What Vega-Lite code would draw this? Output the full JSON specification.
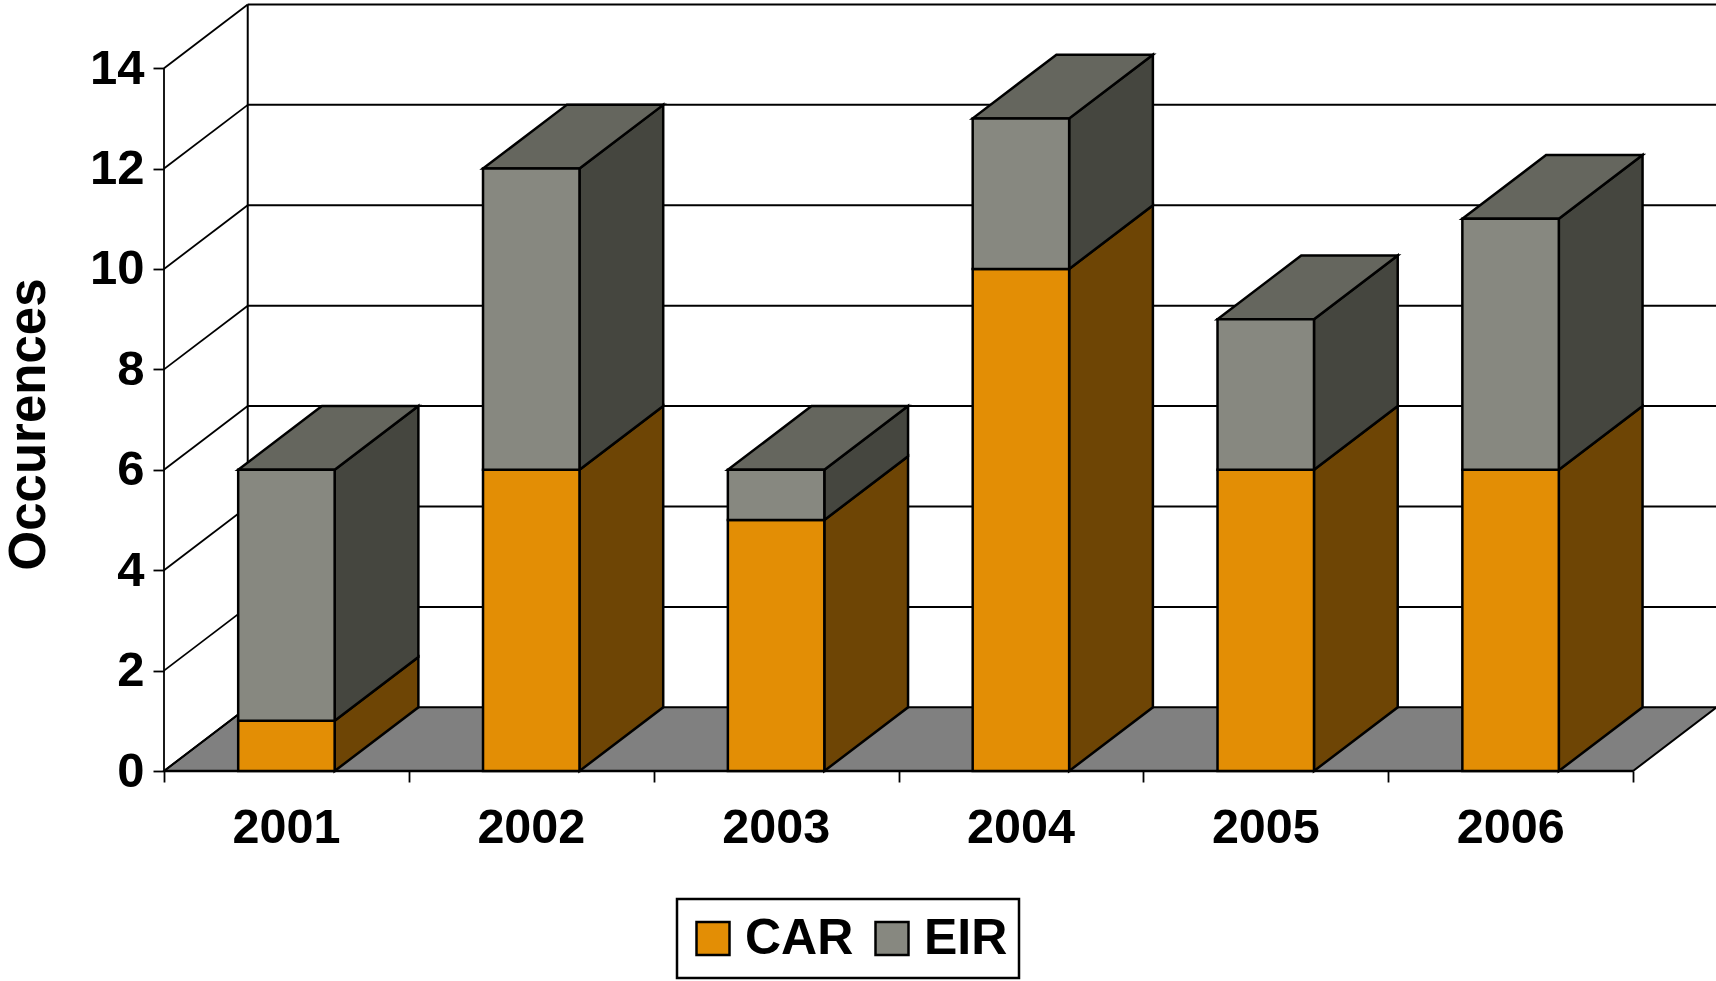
{
"$schema":"https://vega.github.io/schema/vega-lite/v6.json",
"width":1552,"height":771,
"autosize":{"type":"none"},
"padding":{"left":164,"top":0,"right":0,"bottom":210},
"background":"white",
"config":{"view":{"stroke":null},"font":"Liberation Sans","legend":{"strokeWidth":2.5}},
"resolve":{"axis":{"x":"independent","y":"independent"}},
"datasets":{
"levels":[{"level":0},{"level":2},{"level":4},{"level":6},{"level":8},{"level":10},{"level":12},{"level":14}],
"bars":[
{"year":2001,"series":"CAR","value":1},{"year":2001,"series":"EIR","value":5},
{"year":2002,"series":"CAR","value":6},{"year":2002,"series":"EIR","value":6},
{"year":2003,"series":"CAR","value":5},{"year":2003,"series":"EIR","value":1},
{"year":2004,"series":"CAR","value":10},{"year":2004,"series":"EIR","value":3},
{"year":2005,"series":"CAR","value":6},{"year":2005,"series":"EIR","value":3},
{"year":2006,"series":"CAR","value":6},{"year":2006,"series":"EIR","value":5}]
},
"layer":[
{"data":{"name":"levels"},
 "resolve":{"axis":{"x":"independent","y":"independent"}},
 "layer":[
 {"transform":[{"filter":"datum.level==0"},{"calculate":"[0,1]","as":"t"},{"flatten":["t"]},
   {"calculate":"2000.5+datum.t*0.342","as":"xa"},{"calculate":"2006.5+datum.t*0.342","as":"xb"},{"calculate":"datum.t*1.269","as":"yv"}],
  "mark":{"type":"area","orient":"horizontal","color":"#808080","stroke":"black","strokeWidth":2},
  "encoding":{
   "x":{"field":"xa","type":"quantitative","scale":{"domain":[2000.5,2006.839],"nice":false,"zero":false},
     "axis":{"title":null,"domain":false,"grid":false,"values":[2000.5,2001.5,2002.5,2003.5,2004.5,2005.5,2006.5],
       "labelExpr":"datum.value<2006 ? format(datum.value+0.5,'d') : ''","labelOffset":122,"labelBound":false,"labelFlush":false,"labelOverlap":false,
       "labelFont":"Liberation Sans","labelFontWeight":"bold","labelFontSize":48.5,"labelColor":"black","labelPadding":22,"tickSize":11,"tickWidth":1.8,"tickColor":"black"}},
   "x2":{"field":"xb"},
   "y":{"field":"yv","type":"quantitative","scale":{"domain":[0,15.358],"nice":false,"zero":false},
     "axis":{"title":"Occurences","titleFont":"Liberation Sans","titleFontWeight":"bold","titleFontSize":51,"titleColor":"black","titleAngle":270,"titleAlign":"center","titleBaseline":"alphabetic","titleX":-120,"titleY":424,
       "domain":false,"grid":false,"values":[0,2,4,6,8,10,12,14],"format":"d","labelFont":"Liberation Sans","labelFontWeight":"bold","labelFontSize":49,"labelColor":"black","labelPadding":9,"labelOverlap":false,"labelBound":false,"labelFlush":false,"tickSize":11,"tickWidth":1.8,"tickColor":"black"}}
  }},
 {"transform":[{"filter":"datum.level>0"},{"calculate":"datum.level+1.269","as":"by"},{"calculate":"2000.842","as":"bx"},{"calculate":"2006.839","as":"ex"}],
  "mark":{"type":"rule","color":"black","strokeWidth":2},
  "encoding":{"x":{"field":"bx","type":"quantitative","axis":null},"x2":{"field":"ex"},"y":{"field":"by","type":"quantitative","axis":null}}},
 {"transform":[{"calculate":"datum.level+1.269","as":"by"},{"calculate":"2000.5","as":"fx"},{"calculate":"2000.842","as":"bx"}],
  "mark":{"type":"rule","color":"black","strokeWidth":1.8},
  "encoding":{"x":{"field":"fx","type":"quantitative","axis":null},"x2":{"field":"bx"},"y":{"field":"level","type":"quantitative","axis":null},"y2":{"field":"by"}}},
 {"transform":[{"filter":"datum.level==14"},{"calculate":"2000.842","as":"bx"},{"calculate":"1.269","as":"by0"},{"calculate":"15.269","as":"by1"}],
  "mark":{"type":"rule","color":"black","strokeWidth":2},
  "encoding":{"x":{"field":"bx","type":"quantitative","axis":null},"y":{"field":"by0","type":"quantitative","axis":null},"y2":{"field":"by1"}}},
 {"transform":[{"filter":"datum.level==14"},{"calculate":"2000.5","as":"fx"},{"calculate":"0","as":"y0"}],
  "mark":{"type":"rule","color":"black","strokeWidth":1.8},
  "encoding":{"x":{"field":"fx","type":"quantitative","axis":null},"y":{"field":"y0","type":"quantitative","axis":null},"y2":{"field":"level"}}},
 {"transform":[{"filter":"datum.level==0"},{"calculate":"2000.5","as":"fx"},{"calculate":"2006.5","as":"ex"}],
  "mark":{"type":"rule","color":"black","strokeWidth":2.5},
  "encoding":{"x":{"field":"fx","type":"quantitative","axis":null},"x2":{"field":"ex"},"y":{"field":"level","type":"quantitative","axis":null}}}
 ]},
{"data":{"name":"bars"},
 "resolve":{"axis":{"x":"independent","y":"independent"}},
 "transform":[
  {"stack":"value","groupby":["year"],"sort":[{"field":"series","order":"ascending"}],"as":["lo","hi"]},
  {"calculate":"datum.year-0.197","as":"x0"},{"calculate":"datum.year+0.197","as":"x1"}],
 "layer":[
 {"transform":[{"calculate":"[0,1]","as":"t"},{"flatten":["t"]},{"filter":"datum.series=='CAR'"},
   {"calculate":"datum.x1+datum.t*0.342","as":"sx"},{"calculate":"datum.lo+datum.t*1.269","as":"slo"},{"calculate":"datum.hi+datum.t*1.269","as":"shi"}],
  "mark":{"type":"area","color":"#6E4505","stroke":"black","strokeWidth":2.5},
  "encoding":{"x":{"field":"sx","type":"quantitative","axis":null},"y":{"field":"slo","type":"quantitative","axis":null},"y2":{"field":"shi"},"detail":{"field":"year"}}},
 {"transform":[{"calculate":"[0,1]","as":"t"},{"flatten":["t"]},{"filter":"datum.series=='EIR'"},
   {"calculate":"datum.x1+datum.t*0.342","as":"sx"},{"calculate":"datum.lo+datum.t*1.269","as":"slo"},{"calculate":"datum.hi+datum.t*1.269","as":"shi"}],
  "mark":{"type":"area","color":"#45463F","stroke":"black","strokeWidth":2.5},
  "encoding":{"x":{"field":"sx","type":"quantitative","axis":null},"y":{"field":"slo","type":"quantitative","axis":null},"y2":{"field":"shi"},"detail":{"field":"year"}}},
 {"transform":[{"calculate":"[0,1]","as":"t"},{"flatten":["t"]},{"filter":"datum.series=='EIR'"},
   {"calculate":"datum.x0+datum.t*0.342","as":"ta"},{"calculate":"datum.x1+datum.t*0.342","as":"tb"},{"calculate":"datum.hi+datum.t*1.269","as":"ty"}],
  "mark":{"type":"area","orient":"horizontal","color":"#65665E","stroke":"black","strokeWidth":2.5},
  "encoding":{"x":{"field":"ta","type":"quantitative","axis":null},"x2":{"field":"tb"},"y":{"field":"ty","type":"quantitative","axis":null},"detail":{"field":"year"}}},
 {"mark":{"type":"rect","stroke":"black","strokeWidth":2.5},
  "encoding":{"x":{"field":"x0","type":"quantitative","axis":null},"x2":{"field":"x1"},"y":{"field":"lo","type":"quantitative","axis":null},"y2":{"field":"hi"},
   "color":{"field":"series","type":"nominal","scale":{"domain":["CAR","EIR"],"range":["#E38E05","#878880"]},
    "legend":{"title":null,"orient":"none","legendX":513,"legendY":899,"direction":"horizontal","columns":2,"fillColor":"white","strokeColor":"black","padding":11,"clipHeight":57,"symbolType":"square","symbolSize":1089,"symbolStrokeColor":"black","symbolStrokeWidth":2.5,"labelFont":"Liberation Sans","labelFontWeight":"bold","labelFontSize":50,"labelColor":"black","labelOffset":7,"columnPadding":13,"symbolOpacity":1,"labelLimit":300}}}}
 ]}
]
}
